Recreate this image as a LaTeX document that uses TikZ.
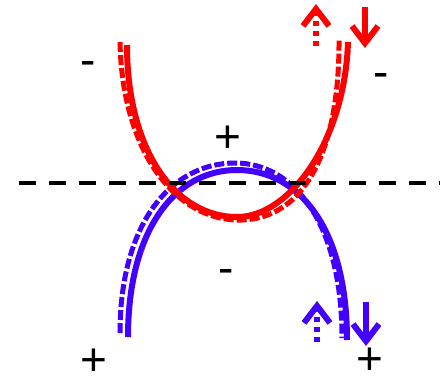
\documentclass[tikz,border=0pt]{standalone}
\usepackage{fontspec}
\setmainfont{Liberation Sans}
\usetikzlibrary{arrows.meta}
\definecolor{curvered}{RGB}{255,0,0}
\definecolor{curveblue}{RGB}{68,0,255}

\begin{document}
\begin{tikzpicture}[
  x=1pt, y=-1pt,
  font=\fontsize{46}{50}\selectfont,
  sign/.style={inner sep=0pt, anchor=base},
  solidcurve/.style={line width=6pt},
  dashcurve/.style={line width=5pt, dash pattern=on 10pt off 3pt},
  axisline/.style={line width=4pt, dash pattern=on 17pt off 13pt},
  arr/.style={-{Straight Barb[length=17pt,width=26pt]}, line width=6pt},
  darr/.style={arr, dash pattern=on 5pt off 5pt}
]
\useasboundingbox (0,0) rectangle (448,384);
% blue arch
\draw[curveblue, solidcurve] (128,337) .. controls (128,230) and (175,170) .. (237,170)
  .. controls (300,170) and (347,230) .. (347,340);
\draw[curveblue, dashcurve] (120,333) .. controls (120,225) and (170,163) .. (235,163)
  .. controls (295,163) and (342,225) .. (342,338);
% red bowl
\draw[curvered, solidcurve] (127,45) .. controls (127,150) and (175,217) .. (237,217)
  .. controls (290,217) and (345,140) .. (348,42);
\draw[curvered, dashcurve] (120,42) .. controls (122,150) and (175,222) .. (242,220)
  .. controls (305,218) and (340,150) .. (339,38);
% level
\coordinate (l1) at (19,183);
\coordinate (l2) at (440,183);
\draw[axisline] (l1) -- (l2);
% arrows
\coordinate (ru0) at (316,46);
\coordinate (ru1) at (316,4);
\coordinate (rd0) at (365,7);
\coordinate (rd1) at (365,48);
\coordinate (bu0) at (317,342);
\coordinate (bu1) at (317,301);
\coordinate (bd0) at (366,302);
\coordinate (bd1) at (366,346);
\draw[curvered, darr] (ru0) -- (ru1);
\draw[curvered, arr] (rd0) -- (rd1);
\draw[curveblue, darr] (bu0) -- (bu1);
\draw[curveblue, arr] (bd0) -- (bd1);
% signs
\node[sign] (m1) at (88,75) {-};
\node[sign] (m2) at (381,87) {-};
\node[sign] (p1) at (228,152) {+};
\node[sign] (m3) at (226,283) {-};
\node[sign] (p2) at (94,375) {+};
\node[sign] (p3) at (370,374) {+};
\end{tikzpicture}
\end{document}
